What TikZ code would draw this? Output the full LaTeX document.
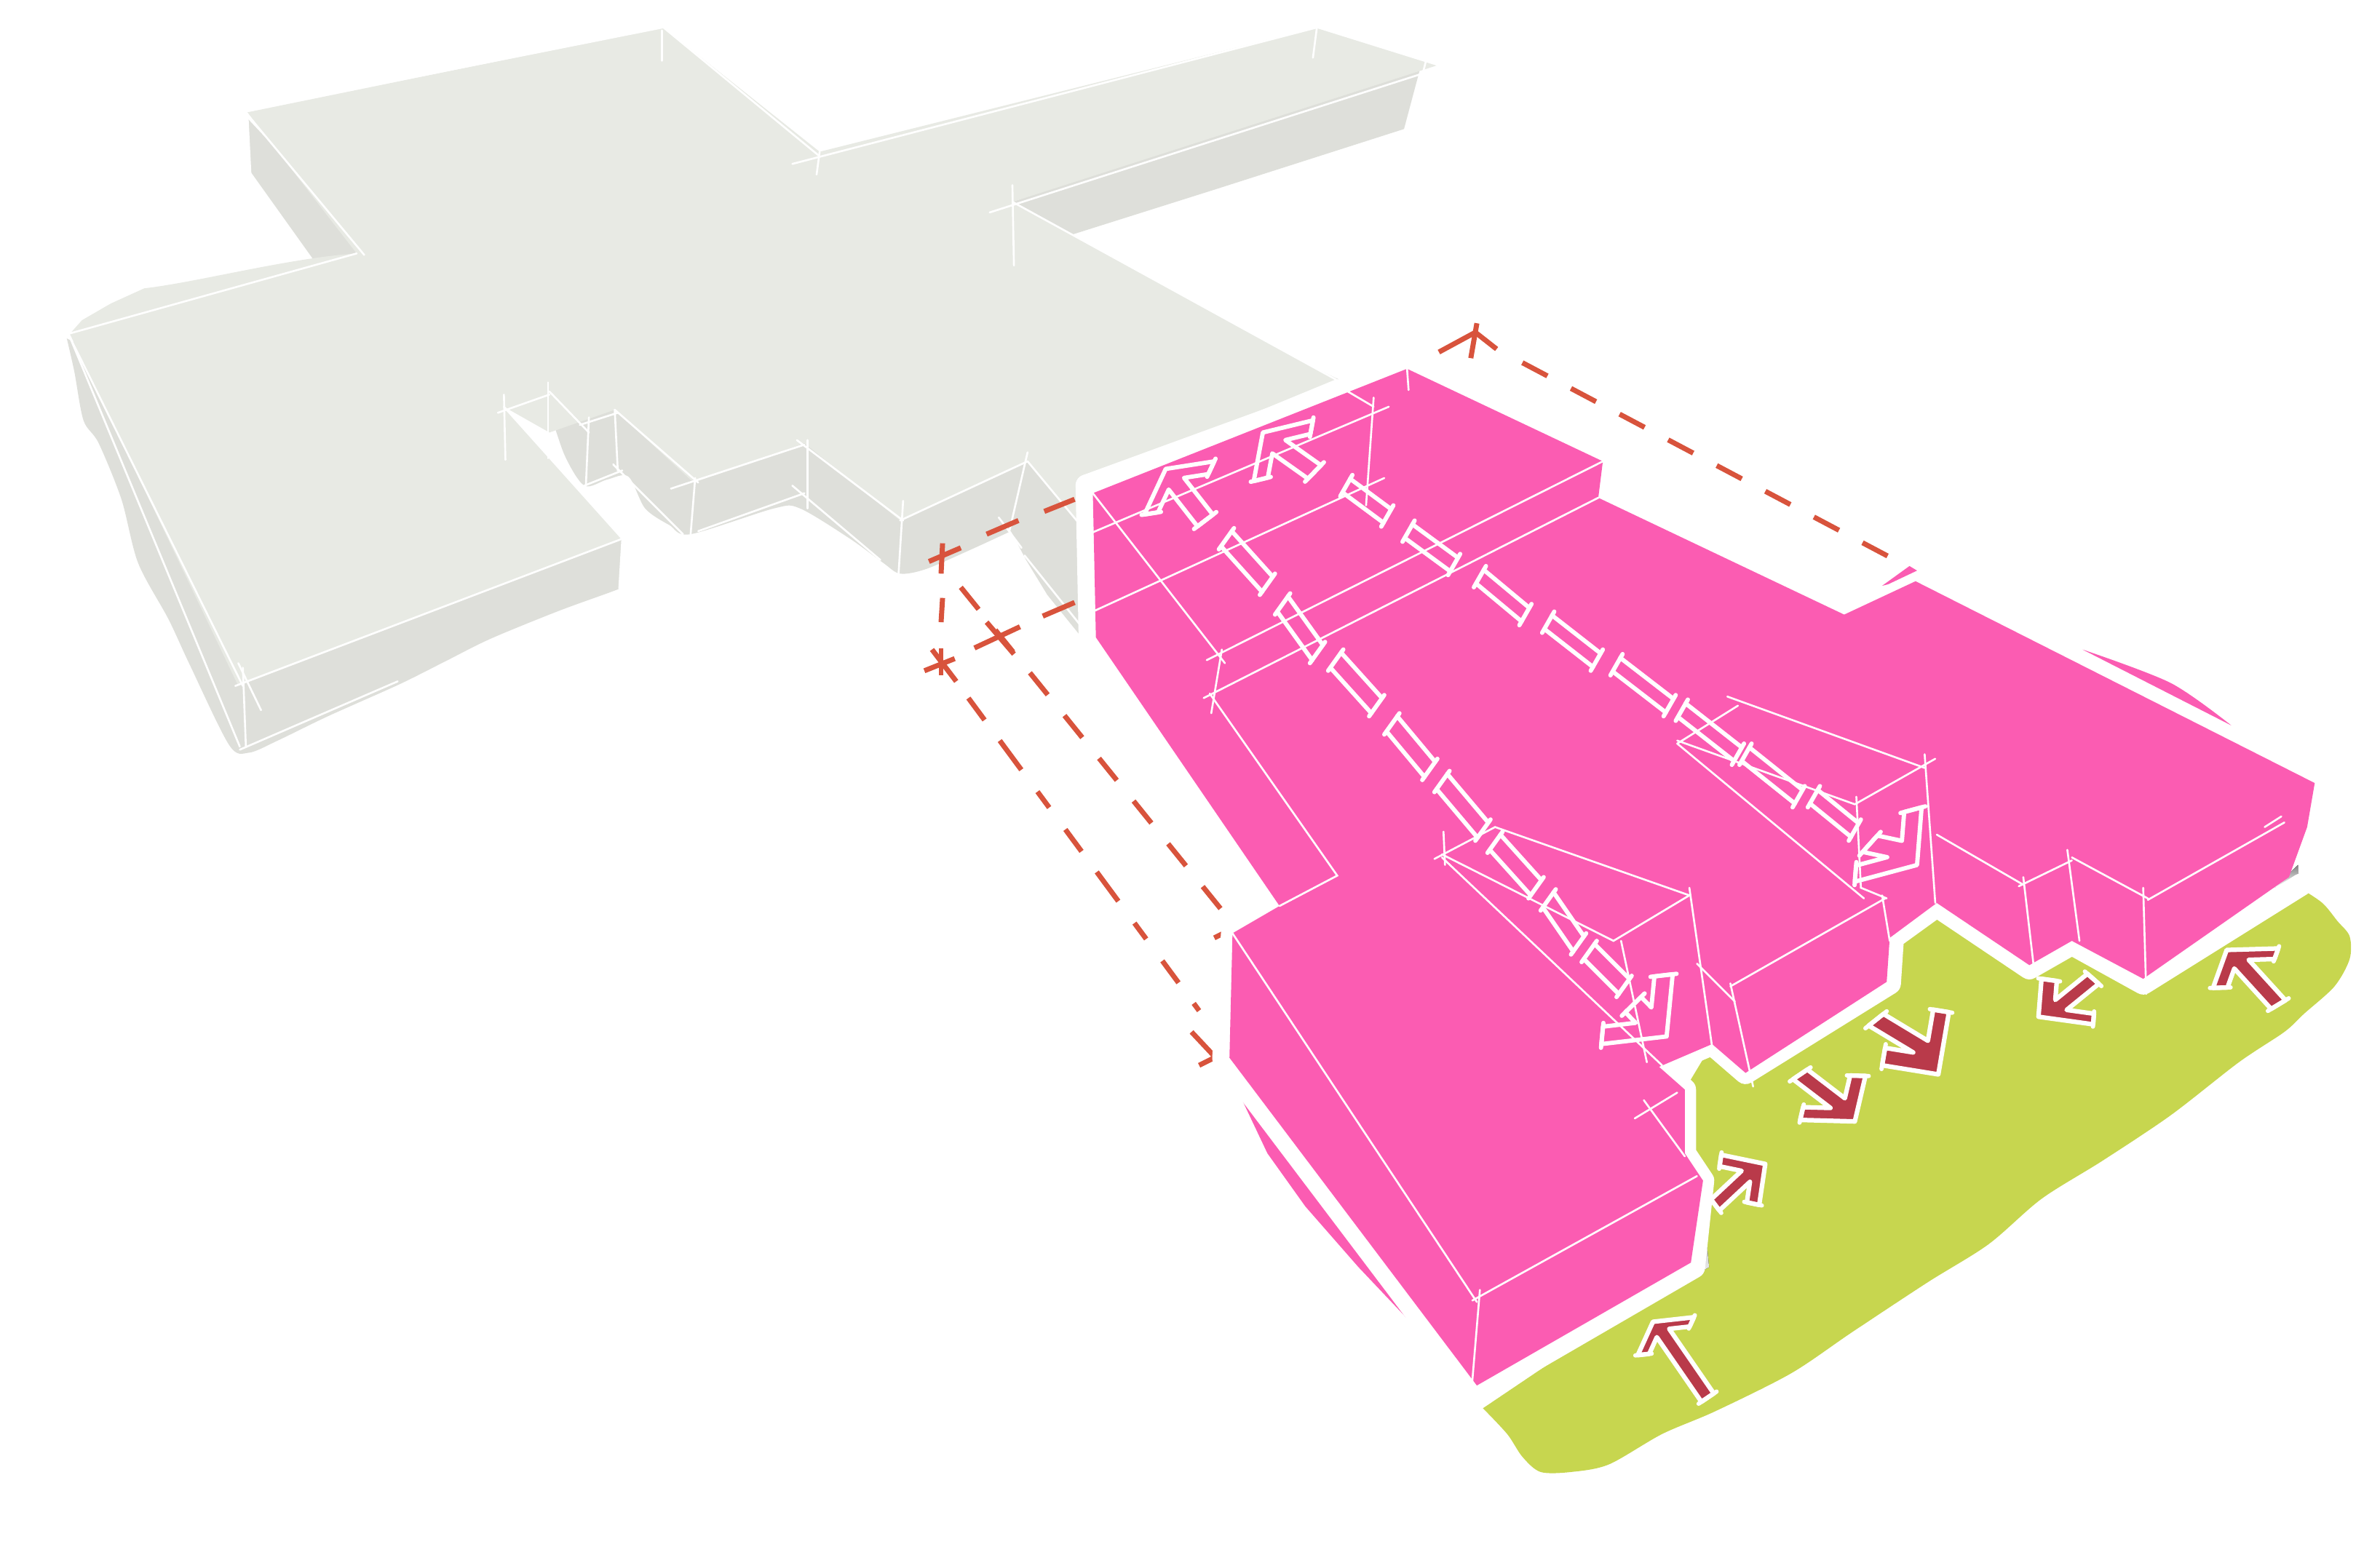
\documentclass[tikz,border=0pt]{standalone}
\usepackage{tikz}
\usetikzlibrary{calc}

\definecolor{greytop}{HTML}{E8EAE4}
\definecolor{greyside}{HTML}{DEDFDA}
\definecolor{massing}{HTML}{FB5CB2}
\definecolor{lawn}{HTML}{C7D64F}
\definecolor{siteline}{HTML}{D8533C}
\definecolor{flowred}{HTML}{B93A4A}
\definecolor{shade}{HTML}{D9DCDF}

\tikzset{
    thinline/.style={white, line width=.36pt, line cap=round},
    heavyline/.style={white, line width=4.2pt, line cap=round, line join=round},
    barline/.style={white, line width=.8pt, line cap=round},
    sitemark/.style={siteline, line width=.95pt},
    dashline/.style={sitemark, dash pattern=on 5.3pt off 5pt},
    dashlong/.style={sitemark, dash pattern=on 5.1pt off 4.8pt on 6.8pt off 5.1pt on 3.7pt off 5.1pt},
    flowmark/.style={draw=white, fill=flowred, line width=.85pt, line join=round, line cap=round},
    walkmark/.style={draw=white, line width=.8pt, line join=round, line cap=round}
}

% corner, arm end, arm end, tail
\newcommand{\flowarrow}[5]{
    \coordinate (T) at (#2);
    \coordinate (A) at (#3);
    \coordinate (B) at (#4);
    \coordinate (E) at (#5);
    \draw[#1] (T) -- (A) -- ($(A)+.28*(B)-.28*(T)$) -- ($.22*(T)+.5*(A)+.28*(B)$)
        -- ($(E)+.11*(A)-.11*(B)$) -- ($(E)-.11*(A)+.11*(B)$)
        -- ($.22*(T)+.28*(A)+.5*(B)$) -- ($(B)+.28*(A)-.28*(T)$) -- (B) -- cycle;
    \draw[barline] ($(E)+.16*(A)-.16*(B)$) -- ($(E)-.16*(A)+.16*(B)$);
    \draw[barline] ($(A)-.06*(B)+.06*(T)$) -- ($(A)+.34*(B)-.34*(T)$);
    \draw[barline] ($(B)-.06*(A)+.06*(T)$) -- ($(B)+.34*(A)-.34*(T)$);
}

\begin{document}
\begin{tikzpicture}[x=.01cm,y=-.01cm]
    \useasboundingbox (0,0) rectangle (1568,1019.4);

    % green strip
    \fill[lawn] plot[smooth] coordinates {(1515,585) (1530,595) (1540,607) (1548,617) (1548,632)
        (1538,650) (1518,668) (1505,680) (1475,700) (1430,735) (1385,765) (1345,790) (1310,820)
        (1270,845) (1220,878) (1180,905) (1130,930) (1095,945) (1060,965) (1035,970) (1015,970)
        (1003,960) (993,945) (977,928)} -- (1115,835) -- (1122,778) -- (1110,760) -- (1110,718)
        -- (1128,688) -- (1150,707) -- (1245,648) -- (1247,618) -- (1276,597) -- (1337,638)
        -- (1365,622) -- (1412,648) -- cycle;
    \fill[shade] (1120,775) -- (1126,835) -- (1098,850) -- (1112,832) -- cycle;
    \fill[shade] (1246,615) -- (1253,640) -- (1244,650) -- cycle;
    \fill[shade] (1498,585) -- (1514,570) -- (1514,583) -- cycle;

    % grey wing, sides
    \fill[greyside] plot[smooth] coordinates {(44,223) (49,245) (55,277) (65,292) (80,329) (91,371)
        (111,408) (125,438) (151,491) (164,496) (183,488) (216,472) (263,451) (293,436) (323,421)
        (367,403) (400,391) (408,388)} -- (410,356) -- (200,300) -- cycle;
    \fill[greyside] (163,78) -- (165,113) -- (210,176) -- (245,165) -- cycle;
    \fill[greyside] (667,133) -- (705,155) -- (800,125) -- (925,85) -- (937,40) -- cycle;
    \fill[greyside] plot[smooth] coordinates {(362,270) (372,300) (385,320) (400,316) (414,314)
        (425,335) (441,346) (455,352) (510,335) (527,335) (560,355) (582,371) (593,378) (610,375)
        (640,362) (666,350)} -- (676,369) -- (690,392) -- (711,418) -- (716,340) -- (677,300)
        -- (500,270) -- cycle;
    \fill[greyside] plot[smooth] coordinates {(667,133) (730,175) (800,210) (882,250)} -- (800,230) -- cycle;

    % grey wing, top
    \fill[greytop] (46,220) -- (235,167) -- (163,74) -- (437,18) -- (540,100) -- (868,18)
        -- (947,43) -- (667,133) -- (880,250) -- (715,318) -- (711,345) -- (677,304) -- (593,343)
        -- (530,292) -- (457,318) -- (405,270) -- (362,285) -- (332,268) -- (410,355)
        -- (157,452) -- cycle;
    \fill[greytop] (46,220) -- (54,211) -- (73,200) -- (95,190) .. controls (130,186) and (190,170) .. (235,167) -- cycle;

    % grey wing, lines
    \draw[thinline] (161,73) -- (240,168);
    \draw[thinline] (161,73) -- (437,18) -- (540,103);
    \draw[thinline] (436,20) -- (436,40);
    \draw[thinline] (522,108) -- (868,18) -- (948,43);
    \draw[thinline] (540,100) -- (538,115);
    \draw[thinline] (868,15) -- (865,38);
    \draw[thinline] (652,140) -- (948,45);
    \draw[thinline] (940,38) -- (928,85);
    \draw[thinline] (667,122) -- (668,175);
    \draw[thinline] (667,133) -- (880,250);
    \draw[thinline] (45,220) -- (235,167);
    \draw[thinline] (46,222) -- (160,452);
    \draw[thinline] (46,222) -- (158,492);
    \draw[thinline] (163,75) -- (165,115);
    \draw[thinline] (155,452) -- (410,355);
    \draw[thinline] (160,440) -- (162,492);
    \draw[thinline] (157,437) -- (172,468);
    \draw[thinline] (158,494) -- (262,449);
    \draw[thinline] (410,355) -- (408,388);
    \draw[thinline] (332,260) -- (333,303);
    \draw[thinline] (328,272) -- (362,260);
    \draw[thinline] (332,268) -- (410,355);
    \draw[thinline] (361,252) -- (361,302);
    \draw[thinline] (362,258) -- (388,285);
    \draw[thinline] (388,275) -- (386,320);
    \draw[thinline] (382,280) -- (407,272);
    \draw[thinline] (405,270) -- (407,310);
    \draw[thinline] (405,270) -- (460,318);
    \draw[thinline] (442,322) -- (530,293);
    \draw[thinline] (458,315) -- (455,352);
    \draw[thinline] (532,290) -- (532,335);
    \draw[thinline] (525,290) -- (595,343);
    \draw[thinline] (522,320) -- (580,369);
    \draw[thinline] (595,330) -- (592,378);
    \draw[thinline] (593,343) -- (677,304);
    \draw[thinline] (677,298) -- (665,350);
    \draw[thinline] (677,304) -- (711,345);
    \draw[thinline] (658,341) -- (673,361);
    \draw[thinline] (675,366) -- (711,411);
    \draw[thinline] (385,320) -- (410,310);
    \draw[thinline] (404,306) -- (450,352);
    \draw[thinline] (460,350) -- (530,325);

    % site outline
    \draw[dashline] (1003,239) -- (1258,374);
    \draw[sitemark] (948,232) -- (972,219);
    \draw[sitemark] (973,213) -- (969,236);
    \draw[sitemark] (972,219) -- (986,230);
    \draw[sitemark] (612,370) -- (633,361);
    \draw[sitemark] (621,358) -- (620,378);
    \draw[sitemark] (650,352) -- (671,343);
    \draw[sitemark] (688,337) -- (708,329);
    \draw[sitemark] (621,394) -- (620,410);
    \draw[sitemark] (620,427) -- (620,445);
    \draw[sitemark] (609,442) -- (629,434);
    \draw[sitemark] (614,428) -- (630,449);
    \draw[sitemark] (642,427) -- (672,413);
    \draw[sitemark] (687,406) -- (708,397);
    \draw[sitemark] (650,410) -- (668,431);
    \draw[dashline] (633,387) -- (810,606);
    \draw[dashlong] (638,460) -- (790,666);
    \draw[sitemark] (785,680) -- (800,696);
    \draw[sitemark] (790,702) -- (802,696);
    \draw[sitemark] (800,618) -- (812,612);

    % pink block
    \fill[massing] (817,722) -- (838,748) -- (870,787) -- (905,835) -- (930,872) -- (895,835)
        -- (860,795) -- (835,760) -- cycle;
    \fill[massing] plot[smooth] coordinates {(1372,428) (1430,450) (1470,478)} -- cycle;
    \draw[heavyline] (716,320) -- (927,243) -- (1056,304) -- (1053,328) -- (1215,405) -- (1262,383)
        -- (1525,516);
    \draw[heavyline] (716,320) -- (718,420) -- (843,597) -- (812,612) -- (806,697) -- (973,918);
    \draw[heavyline] (973,918) -- (1116,835) -- (1122,778) -- (1110,760) -- (1110,718) -- (1093,703)
        -- (1128,688) -- (1150,707) -- (1245,648) -- (1247,618) -- (1276,597) -- (1337,638)
        -- (1365,622) -- (1412,648) -- (1516,583);
    \fill[massing] (1240,386) -- (1258,373) -- (1263,376) -- (1244,385) -- cycle;
    \fill[massing] (720,325) -- (927,243) -- (1056,304) -- (1053,328) -- (1215,405) -- (1262,383)
        -- (1525,516) -- (1520,545) -- (1508,578) -- (1412,645) -- (1365,620) -- (1337,636)
        -- (1276,595) -- (1245,618) -- (1243,647) -- (1150,707) -- (1128,688) -- (1093,703)
        -- (1110,718) -- (1110,760) -- (1122,778) -- (1114,832) -- (973,913) -- (810,697)
        -- (812,615) -- (843,597) -- (722,420) -- cycle;

    % pink block, lines
    \draw[thinline] (710,355) -- (915,268);
    \draw[thinline] (905,262) -- (900,333);
    \draw[thinline] (888,258) -- (905,268);
    \draw[thinline] (927,243) -- (928,257);
    \draw[thinline] (720,403) -- (912,315);
    \draw[thinline] (720,325) -- (807,437);
    \draw[thinline] (795,435) -- (1056,304);
    \draw[thinline] (793,460) -- (1053,328);
    \draw[thinline] (805,428) -- (798,470);
    \draw[thinline] (797,457) -- (881,577) -- (843,597);
    \draw[thinline] (812,615) -- (973,858);
    \draw[thinline] (975,850) -- (970,910);
    \draw[thinline] (970,857) -- (1118,775);
    \draw[thinline] (1077,737) -- (1105,720);
    \draw[thinline] (1083,725) -- (1110,762);
    \draw[thinline] (951,548) -- (952,570);
    \draw[thinline] (945,566) -- (985,545) -- (1113,590);
    \draw[thinline] (950,563) -- (1063,620) -- (1113,590);
    \draw[thinline] (1113,585) -- (1128,690);
    \draw[thinline] (950,565) -- (1095,702);
    \draw[thinline] (1068,620) -- (1085,700);
    \draw[thinline] (1118,635) -- (1143,660);
    \draw[thinline] (1140,650) -- (1242,592);
    \draw[thinline] (1140,648) -- (1155,716);
    \draw[thinline] (1105,490) -- (1228,592);
    \draw[thinline] (1105,488) -- (1222,530);
    \draw[thinline] (1105,490) -- (1145,465);
    \draw[thinline] (1138,459) -- (1268,506);
    \draw[thinline] (1222,530) -- (1275,500);
    \draw[thinline] (1268,497) -- (1275,595);
    \draw[thinline] (1223,525) -- (1226,585) -- (1243,592);
    \draw[thinline] (1240,590) -- (1245,620);
    \draw[thinline] (1276,550) -- (1333,583);
    \draw[thinline] (1333,578) -- (1340,638);
    \draw[thinline] (1330,584) -- (1365,567);
    \draw[thinline] (1362,560) -- (1370,620);
    \draw[thinline] (1365,565) -- (1415,592);
    \draw[thinline] (1412,585) -- (1414,655);
    \draw[thinline] (1415,593) -- (1505,542);
    \draw[thinline] (1492,545) -- (1503,538);

    % walkway bars
    \foreach \ax/\ay/\bx/\by in {808/355/835/385, 845/398/868/430, 880/435/907/465, 917/477/942/507,
        950/515/977/547, 985/555/1012/585, 1020/593/1040/622, 1047/627/1070/650}{
        \draw[barline] (\ax+3.5,\ay-5) -- (\bx+3.5,\by-5);
        \draw[barline] (\ax-3.5,\ay+5) -- (\bx-3.5,\by+5);
        \draw[barline] (\ax+5,\ay-7) -- (\ax-5,\ay+7);
        \draw[barline] (\bx+5,\by-7) -- (\bx-5,\by+7);
    }
    \foreach \ax/\ay/\bx/\by in {887/320/914/340, 928/350/958/372, 975/380/1005/405, 1020/410/1052/435,
        1065/438/1100/465, 1108/468/1145/497, 1150/497/1185/525, 1195/525/1222/547}{
        \draw[barline] (\ax+2.5,\ay-4.5) -- (\bx+2.5,\by-4.5);
        \draw[barline] (\ax-2.5,\ay+4.5) -- (\bx-2.5,\by+4.5);
        \draw[barline] (\ax+4,\ay-7) -- (\ax-4,\ay+7);
        \draw[barline] (\bx+4,\by-7) -- (\bx-4,\by+7);
    }
    \flowarrow{walkmark}{768,309}{800,304}{754,339}{794,343}
    \flowarrow{walkmark}{832,285}{865,277}{826,317}{866,311}
    \flowarrow{walkmark}{1098,683}{1102,642}{1055,688}{1076,662}
    \flowarrow{walkmark}{1263,570}{1266,532}{1222,581}{1232,556}

    % arrows on the green
    \flowarrow{flowmark}{1089,871}{1116,868}{1079,893}{1125,921}
    \flowarrow{flowmark}{1163,767}{1134,761}{1159,794}{1130,794}
    \flowarrow{flowmark}{1222,739}{1229,709}{1186,738}{1186,708}
    \flowarrow{flowmark}{1277,708}{1284,667}{1240,702}{1236,672}
    \flowarrow{flowmark}{1343,670}{1345,645}{1379,675}{1379,645}
    \flowarrow{flowmark}{1467,626}{1501,625}{1458,651}{1501,662}
\end{tikzpicture}
\end{document}
